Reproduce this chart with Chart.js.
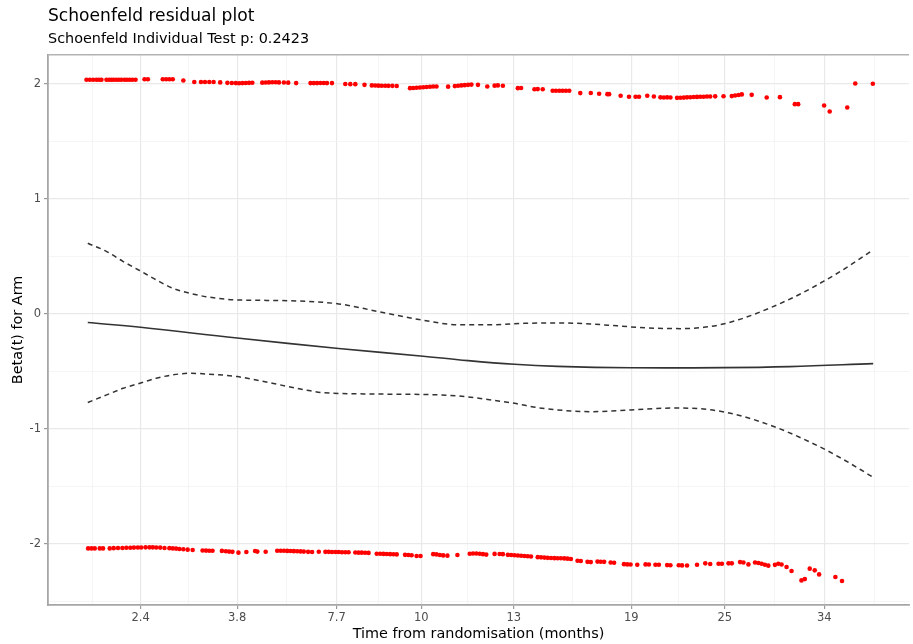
<!DOCTYPE html>
<html>
<head>
<meta charset="utf-8">
<script src="https://cdn.jsdelivr.net/npm/chart.js@4"></script>
<style>
  html, body { margin: 0; padding: 0; background: #ffffff; }
  #wrap { width: 913px; height: 644px; }
</style>
</head>
<body>
<div id="wrap"><canvas id="c" width="913" height="644"></canvas></div>
<script>
// ---- data (x = transformed time, 0..100 percentile scale) ----
const xMajorTicks = [10.75, 21.97, 33.53, 43.35, 54.10, 67.75, 78.61, 90.17];
const xTickLabels = ['2.4', '3.8', '7.7', '10', '13', '19', '25', '34'];
const yTickValues = [-2.5, -2, -1.5, -1, -0.5, 0, 0.5, 1, 1.5, 2];

const upperX = [4.47,4.86,5.24,5.63,5.93,6.21,6.79,7.09,7.36,7.63,7.94,8.24,8.52,8.90,9.17,9.48,9.79,10.17,
  11.21,11.60,13.33,13.72,14.10,14.49,15.72,16.99,17.77,18.23,18.73,19.23,20.0,
  20.84,21.35,21.82,22.20,22.58,22.97,23.35,23.73,
  24.89,25.28,25.66,26.05,26.44,26.82,27.40,27.90,28.82,
  30.49,30.87,31.25,31.64,32.02,32.40,32.98,34.53,35.11,35.69,36.76,
  37.61,38.0,38.38,38.76,39.16,39.54,40.0,40.50,
  42.05,42.43,42.81,43.20,43.58,43.97,44.36,44.74,45.12,46.47,
  47.25,47.63,48.01,48.40,48.79,49.17,49.94,51.02,51.87,52.25,52.83,
  54.57,54.95,56.50,56.88,57.46,58.61,58.99,59.39,59.77,60.15,60.54,
  61.82,63.04,64.01,64.97,65.17,66.51,67.48,68.24,68.64,69.60,70.37,
  71.13,71.53,71.91,72.29,
  73.06,73.45,73.84,74.22,74.60,74.99,75.38,75.76,76.15,76.53,76.91,77.49,
  78.46,79.42,79.80,80.20,80.58,81.73,83.47,85.01,86.74,87.13,90.14,90.79,92.83,93.76,95.80];
const upperY = [2.035,2.035,2.035,2.035,2.035,2.035,2.035,2.035,2.035,2.035,2.035,2.035,2.035,2.035,2.035,2.035,2.035,2.035,
  2.040,2.040,2.040,2.040,2.040,2.040,2.029,2.015,2.015,2.015,2.015,2.015,2.012,
  2.008,2.007,2.006,2.005,2.006,2.007,2.008,2.009,
  2.010,2.011,2.012,2.013,2.013,2.012,2.011,2.010,2.006,
  2.006,2.006,2.006,2.007,2.007,2.006,2.006,1.998,1.997,1.997,1.991,
  1.986,1.985,1.984,1.983,1.983,1.982,1.982,1.981,
  1.962,1.963,1.965,1.968,1.970,1.972,1.974,1.976,1.977,1.975,
  1.980,1.983,1.986,1.988,1.991,1.993,1.991,1.977,1.984,1.986,1.983,
  1.962,1.963,1.953,1.954,1.953,1.939,1.939,1.939,1.939,1.939,1.939,
  1.919,1.920,1.913,1.910,1.910,1.896,1.888,1.887,1.888,1.896,1.890,
  1.882,1.881,1.882,1.881,
  1.878,1.879,1.880,1.882,1.883,1.885,1.886,1.887,1.888,1.889,1.889,1.891,
  1.892,1.893,1.898,1.903,1.908,1.904,1.881,1.884,1.823,1.823,1.811,1.759,1.794,2.003,2.000];

const lowerX = [4.66,5.05,5.43,6.01,6.39,
  7.17,7.63,8.13,8.64,9.10,9.56,9.98,10.44,10.83,11.33,11.79,12.17,12.57,13.03,
  13.53,14.10,14.49,14.88,15.26,15.72,16.22,16.80,
  17.95,18.35,18.73,19.11,20.20,20.66,21.04,21.42,22.12,23.04,24.05,24.31,25.28,
  26.62,27.02,27.40,27.78,28.17,28.55,28.94,29.33,29.71,30.21,30.67,31.45,
  32.22,32.60,32.98,33.38,33.76,34.14,34.53,34.91,
  35.69,36.07,36.45,36.84,37.23,
  38.18,38.58,38.96,39.34,39.73,40.12,40.50,
  41.47,41.85,42.23,42.81,43.27,
  44.74,45.12,45.51,45.90,46.39,47.55,
  48.98,49.36,49.75,50.14,50.52,50.90,51.87,52.45,52.83,
  53.41,53.79,54.18,54.57,54.95,55.34,55.72,56.10,
  56.88,57.26,57.65,58.03,58.42,58.81,59.19,59.57,59.97,60.35,60.73,
  61.50,61.88,62.66,63.04,63.82,64.20,64.59,65.35,65.75,
  66.90,67.28,67.66,68.44,69.40,69.79,70.55,70.95,71.91,72.29,
  73.26,73.64,74.22,75.38,76.34,76.91,77.88,78.27,79.04,79.42,80.38,80.77,81.35,
  82.12,82.51,82.89,83.27,83.66,84.43,84.82,85.20,85.78,86.36,
  87.51,87.90,88.47,89.05,89.56,91.45,92.22];
const lowerY = [-2.038,-2.038,-2.038,-2.038,-2.038,
  -2.038,-2.036,-2.035,-2.034,-2.033,-2.032,-2.031,-2.030,-2.030,-2.029,-2.029,-2.029,-2.030,-2.031,
  -2.034,-2.036,-2.038,-2.040,-2.043,-2.046,-2.049,-2.052,
  -2.056,-2.057,-2.058,-2.058,-2.060,-2.063,-2.066,-2.068,-2.075,-2.070,-2.061,-2.066,-2.067,
  -2.058,-2.058,-2.059,-2.060,-2.061,-2.062,-2.063,-2.064,-2.066,-2.068,-2.070,-2.067,
  -2.068,-2.068,-2.069,-2.070,-2.070,-2.071,-2.071,-2.072,
  -2.074,-2.075,-2.075,-2.076,-2.077,
  -2.084,-2.085,-2.086,-2.087,-2.088,-2.089,-2.090,
  -2.094,-2.096,-2.098,-2.104,-2.104,
  -2.088,-2.090,-2.095,-2.099,-2.101,-2.096,
  -2.084,-2.083,-2.082,-2.085,-2.088,-2.092,-2.086,-2.087,-2.088,
  -2.094,-2.096,-2.098,-2.100,-2.102,-2.104,-2.106,-2.108,
  -2.114,-2.116,-2.118,-2.120,-2.122,-2.123,-2.124,-2.124,-2.125,-2.127,-2.130,
  -2.146,-2.148,-2.155,-2.157,-2.153,-2.154,-2.155,-2.161,-2.163,
  -2.175,-2.177,-2.178,-2.180,-2.177,-2.178,-2.180,-2.180,-2.183,-2.184,
  -2.185,-2.186,-2.187,-2.180,-2.168,-2.174,-2.171,-2.171,-2.168,-2.168,-2.157,-2.160,-2.177,
  -2.160,-2.165,-2.172,-2.180,-2.188,-2.181,-2.172,-2.178,-2.200,-2.235,
  -2.316,-2.305,-2.214,-2.229,-2.264,-2.287,-2.322];

const fitX = [4.62, 10.75, 21.97, 33.76, 43.58, 47.63, 54.18, 59.19, 67.66, 78.50, 86.13, 95.84];
const fitY = [-0.075, -0.116, -0.21, -0.30, -0.368, -0.398, -0.438, -0.456, -0.468, -0.467, -0.458, -0.432];

const ciUpperX = [4.62, 6.82, 8.74, 10.64, 12.57, 14.49, 16.42, 18.35, 21.82, 27.98, 33.76, 38.38, 43.35,
  47.63, 51.48, 55.34, 59.19, 63.04, 66.13, 69.60, 73.45, 76.15, 78.07, 80.20, 81.93, 84.05, 86.56, 88.47,
  90.02, 91.94, 93.87, 95.80];
const ciUpperY = [0.614, 0.542, 0.455, 0.377, 0.296, 0.223, 0.18, 0.15, 0.122, 0.115, 0.087, 0.02, -0.052,
  -0.094, -0.094, -0.082, -0.078, -0.088, -0.104, -0.122, -0.128, -0.117, -0.094, -0.051, -0.006, 0.058, 0.143, 0.216,
  0.281, 0.365, 0.458, 0.555];

const ciLowerX = [4.62, 6.82, 8.74, 10.67, 12.57, 14.49, 16.42, 18.35, 21.97, 26.05, 29.90, 31.83, 37.61, 43.39,
  47.63, 51.48, 54.18, 56.88, 59.19, 63.04, 67.66, 72.50, 74.80, 76.90, 78.80, 80.80, 82.70, 84.60, 86.60,
  88.50, 90.40, 92.30, 94.30, 95.80];
const ciLowerY = [-0.77, -0.704, -0.646, -0.603, -0.559, -0.53, -0.516, -0.522, -0.545, -0.603, -0.661, -0.684, -0.696, -0.70,
  -0.713, -0.748, -0.777, -0.815, -0.835, -0.85, -0.835, -0.818, -0.820, -0.833, -0.856, -0.892, -0.936, -0.987, -1.049,
  -1.114, -1.184, -1.262, -1.350, -1.419];

// ---- build ----
const pts = (xs, ys) => xs.map((x, i) => ({ x: x, y: ys[i] }));

function xTickObjects() {
  const m = xMajorTicks;
  const out = [];
  out.push({ value: m[0] - (m[1] - m[0]) / 2, minor: true, lab: '' });
  for (let i = 0; i < m.length; i++) {
    out.push({ value: m[i], minor: false, lab: xTickLabels[i] });
    if (i < m.length - 1) out.push({ value: (m[i] + m[i + 1]) / 2, minor: true, lab: '' });
  }
  const n = m.length;
  out.push({ value: m[n - 1] + (m[n - 1] - m[n - 2]) / 2, minor: true, lab: '' });
  return out;
}
function yTickObjects() {
  return yTickValues.map(v => ({ value: v, minor: !Number.isInteger(v), lab: Number.isInteger(v) ? String(v) : '' }));
}

const FONT = "'DejaVu Sans', sans-serif";
const gridStyle = {
  color: ctx => (ctx.tick && ctx.tick.minor) ? '#f3f3f3' : '#e9e9e9',
  lineWidth: ctx => (ctx.tick && ctx.tick.minor) ? 0.8 : 1.2,
  tickColor: ctx => (ctx.tick && ctx.tick.minor) ? 'rgba(0,0,0,0)' : '#9a9a9a',
  tickWidth: 1.2,
  tickLength: 4,
  drawTicks: true
};

const topBorder = {
  id: 'topBorder',
  afterDraw(chart) {
    const a = chart.chartArea, ctx = chart.ctx;
    ctx.save();
    ctx.strokeStyle = '#b3b3b3';
    ctx.lineWidth = 1.6;
    ctx.beginPath();
    ctx.moveTo(a.left, a.top);
    ctx.lineTo(a.right, a.top);
    ctx.stroke();
    ctx.restore();
  }
};

new Chart(document.getElementById('c'), {
  type: 'scatter',
  data: {
    datasets: [
      { type: 'scatter', data: pts(upperX, upperY), pointRadius: 2.3, pointBackgroundColor: '#ff0000', pointBorderWidth: 0, order: 3 },
      { type: 'scatter', data: pts(lowerX, lowerY), pointRadius: 2.3, pointBackgroundColor: '#ff0000', pointBorderWidth: 0, order: 3 },
      { type: 'line', data: pts(fitX, fitY), borderColor: '#333333', borderWidth: 1.6, pointRadius: 0, tension: 0.4, fill: false, order: 1 },
      { type: 'line', data: pts(ciUpperX, ciUpperY), borderColor: '#333333', borderWidth: 1.5, borderDash: [5, 4], pointRadius: 0, cubicInterpolationMode: 'monotone', fill: false, order: 2 },
      { type: 'line', data: pts(ciLowerX, ciLowerY), borderColor: '#333333', borderWidth: 1.5, borderDash: [5, 4], pointRadius: 0, cubicInterpolationMode: 'monotone', fill: false, order: 2 }
    ]
  },
  options: {
    responsive: false,
    animation: false,
    layout: { padding: 0 },
    plugins: {
      legend: { display: false },
      tooltip: { enabled: false },
      title: {
        display: true, text: 'Schoenfeld residual plot', align: 'start', fullSize: false,
        color: '#000000', font: { family: FONT, size: 17.1, weight: 'normal' },
        padding: { top: 6, bottom: 4 }
      },
      subtitle: {
        display: true, text: 'Schoenfeld Individual Test p: 0.2423', align: 'start', fullSize: false,
        color: '#000000', font: { family: FONT, size: 14.4, weight: 'normal' },
        padding: { top: 0, bottom: 7 }
      }
    },
    scales: {
      x: {
        type: 'linear', min: 0, max: 100,
        afterFit: s => { s.height = 39; },
        afterBuildTicks: s => { s.ticks = xTickObjects(); },
        ticks: {
          autoSkip: false, maxRotation: 0, padding: 2.5, color: '#4d4d4d',
          font: { family: FONT, size: 11.5 },
          callback: (v, i, t) => t[i].lab
        },
        grid: gridStyle,
        border: { display: true, color: '#a6a6a6', width: 1.8 },
        title: {
          display: true, text: 'Time from randomisation (months)', color: '#000000',
          font: { family: FONT, size: 14.4 }, padding: { top: 0, bottom: 1.4 }
        }
      },
      y: {
        type: 'linear', min: -2.53, max: 2.252,
        afterFit: s => { s.width = 48; },
        afterBuildTicks: s => { s.ticks = yTickObjects(); },
        ticks: {
          autoSkip: false, padding: 3, color: '#4d4d4d',
          font: { family: FONT, size: 11.5 },
          callback: (v, i, t) => t[i].lab
        },
        grid: gridStyle,
        border: { display: true, color: '#a6a6a6', width: 1.8 },
        title: {
          display: true, text: 'Beta(t) for Arm', color: '#000000',
          font: { family: FONT, size: 14.4 }, padding: { top: 9.4, bottom: 0 }
        }
      }
    }
  },
  plugins: [topBorder]
});
</script>
</body>
</html>
